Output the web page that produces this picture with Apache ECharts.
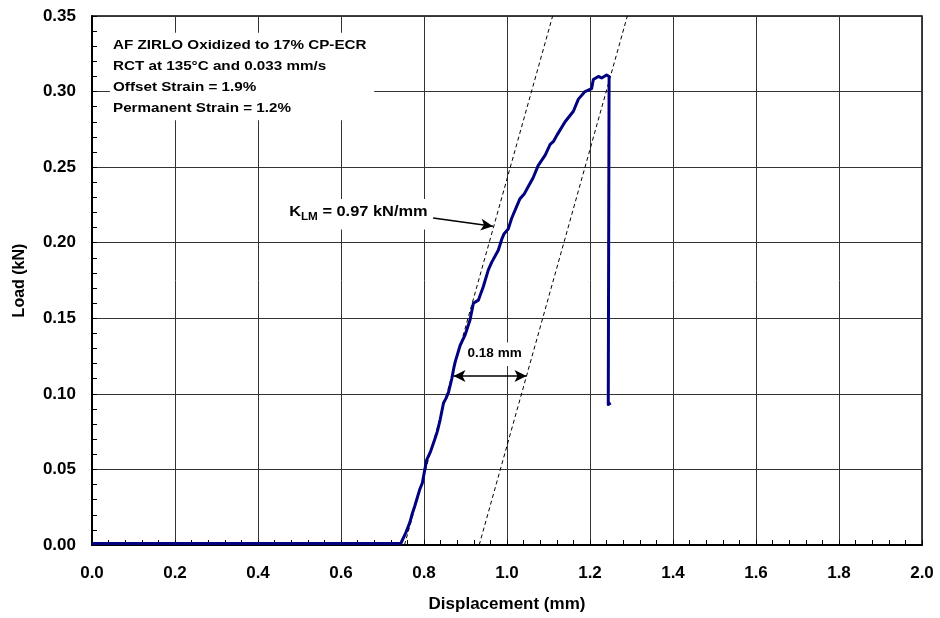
<!DOCTYPE html>
<html>
<head>
<meta charset="utf-8">
<script src="https://cdn.jsdelivr.net/npm/echarts@6/dist/echarts.min.js"></script>
<style>
  html, body { margin: 0; padding: 0; background: #fff; }
  #c { width: 940px; height: 618px; }
</style>
</head>
<body>
<div id="c"></div>
<script>
// Ring compression test: load vs. displacement
const dispMm = [0, 0.2, 0.4, 0.6, 0.744, 0.756, 0.766, 0.772, 0.778, 0.790, 0.796, 0.802, 0.806, 0.816, 0.826,
  0.832, 0.839, 0.847, 0.853, 0.859, 0.867, 0.871, 0.875, 0.887, 0.899, 0.911, 0.919, 0.931, 0.943, 0.955,
  0.963, 0.979, 0.987, 0.993, 1.003, 1.011, 1.031, 1.041, 1.051, 1.063, 1.075, 1.092, 1.104, 1.112, 1.120,
  1.140, 1.160, 1.172, 1.188, 1.204, 1.208, 1.220, 1.228, 1.240, 1.246, 1.244, 1.250];
const loadKn = [0.001, 0.001, 0.001, 0.001, 0.001, 0.008, 0.015, 0.021, 0.026, 0.037, 0.041, 0.050, 0.056, 0.062, 0.070,
  0.075, 0.083, 0.094, 0.097, 0.101, 0.110, 0.116, 0.121, 0.132, 0.139, 0.149, 0.160, 0.162, 0.171, 0.182,
  0.187, 0.195, 0.202, 0.206, 0.209, 0.216, 0.229, 0.232, 0.237, 0.243, 0.251, 0.258, 0.265, 0.267, 0.271,
  0.280, 0.287, 0.295, 0.300, 0.302, 0.308, 0.310, 0.309, 0.311, 0.310, 0.093, 0.094];

// Elastic loading line (K_LM) and the same line offset by the plastic displacement
const stiffLineX = [0.753, 1.110];
const offsetLineX = [0.933, 1.290];
const guideLineY = [0, 0.35];

// Arrow end points
const klmArrowX = [0.822, 0.966];
const klmArrowY = [0.2164, 0.2109];
const offsetArrowX = [0.871, 1.047];
const offsetArrowY = [0.1118, 0.1118];

const noteLines = [
  'AF ZIRLO Oxidized to 17% CP-ECR',
  'RCT at 135°C and 0.033 mm/s',
  'Offset Strain = 1.9%',
  'Permanent Strain = 1.2%'
];
const klmValue = '0.97 kN/mm';
const offsetLabel = '0.18 mm';

const FONT = 'Liberation Sans, Arial, sans-serif';

const curve = dispMm.map((x, i) => [x, loadKn[i]]);
const stiffLine = stiffLineX.map((x, i) => [x, guideLineY[i]]);
const offsetLine = offsetLineX.map((x, i) => [x, guideLineY[i]]);

const chart = echarts.init(document.getElementById('c'), null, { renderer: 'canvas' });

const axisCommon = {
  type: 'value',
  axisLine: { show: true, lineStyle: { color: '#000', width: 2 } },
  axisTick: { show: true, inside: true, length: 5, lineStyle: { color: '#000', width: 1 } },
  minorTick: { show: true, splitNumber: 5, length: 5, lineStyle: { color: '#000', width: 1 } },
  splitLine: { show: true, lineStyle: { color: '#333', width: 1 } },
  axisLabel: { color: '#000', fontFamily: FONT, fontWeight: 'bold', fontSize: 17 },
  nameTextStyle: { color: '#000', fontFamily: FONT, fontWeight: 'bold', fontSize: 17 }
};

chart.setOption({
  animation: false,
  backgroundColor: '#fff',
  grid: { left: 92, right: 18, top: 16, bottom: 72, show: true, borderColor: '#000', borderWidth: 1.5, backgroundColor: '#fff' },
  xAxis: Object.assign({}, axisCommon, {
    min: 0, max: 2, interval: 0.2,
    name: 'Displacement (mm)', nameLocation: 'middle', nameGap: 51,
    axisLabel: Object.assign({}, axisCommon.axisLabel, { margin: 20, formatter: v => v.toFixed(1) }),
    nameTextStyle: Object.assign({}, axisCommon.nameTextStyle, { fontSize: 17 })
  }),
  yAxis: Object.assign({}, axisCommon, {
    min: 0, max: 0.35, interval: 0.05,
    name: 'Load (kN)', nameLocation: 'middle', nameGap: 64, nameRotate: 90,
    axisLabel: Object.assign({}, axisCommon.axisLabel, { margin: 16, formatter: v => v.toFixed(2) }),
    nameTextStyle: Object.assign({}, axisCommon.nameTextStyle, { fontSize: 16 })
  }),
  series: [
    {
      type: 'line', data: stiffLine, showSymbol: false, symbol: 'none', z: 3,
      lineStyle: { color: '#000', width: 1, type: [4, 3] },
      markLine: {
        silent: true, animation: false, symbol: ['none', 'arrow'], symbolSize: [9, 12],
        label: { show: false },
        lineStyle: { color: '#000', width: 1.5, type: 'solid' },
        data: [
          [{ coord: [klmArrowX[0], klmArrowY[0]], symbol: 'none' }, { coord: [klmArrowX[1], klmArrowY[1]], symbol: 'arrow' }],
          [{ coord: [offsetArrowX[0], offsetArrowY[0]], symbol: 'arrow' }, { coord: [offsetArrowX[1], offsetArrowY[1]], symbol: 'arrow' }]
        ]
      }
    },
    {
      type: 'line', data: offsetLine, showSymbol: false, symbol: 'none', z: 3,
      lineStyle: { color: '#000', width: 1, type: [4, 3] }
    },
    {
      type: 'line', data: curve, showSymbol: false, symbol: 'none', z: 5,
      lineStyle: { color: '#000080', width: 3, join: 'round' }
    }
  ]
});

// Text annotations anchored in data space
const px = (x, y) => chart.convertToPixel({ gridIndex: 0 }, [x, y]);
const boxA = px(0.043, 0.339), boxB = px(0.68, 0.281);
const noteAt = px(0.0506, 0.3372);
const klmBoxA = px(0.463, 0.2290), klmBoxB = px(0.820, 0.2087);
const klmAt = px(0.475, 0.2199);
const offBoxA = px(0.902, 0.1340), offBoxB = px(1.045, 0.1185);
const offAt = px(0.905, 0.1268);

chart.setOption({
  graphic: [
    { type: 'rect', z: 50, silent: true,
      shape: { x: boxA[0], y: boxA[1], width: boxB[0] - boxA[0], height: boxB[1] - boxA[1] },
      style: { fill: '#fff' } },
    { type: 'text', z: 51, silent: true, x: noteAt[0], y: noteAt[1], scaleX: 1.17,
      style: { text: noteLines.join('\n'), font: 'bold 13px ' + FONT, fill: '#000', lineHeight: 21, verticalAlign: 'top', align: 'left' } },
    { type: 'rect', z: 50, silent: true,
      shape: { x: klmBoxA[0], y: klmBoxA[1], width: klmBoxB[0] - klmBoxA[0], height: klmBoxB[1] - klmBoxA[1] },
      style: { fill: '#fff' } },
    { type: 'text', z: 51, silent: true, x: klmAt[0], y: klmAt[1], scaleX: 1.17,
      style: {
        text: '{b|K}{s|LM}{b| = ' + klmValue + '}',
        align: 'left', verticalAlign: 'middle', fill: '#000',
        rich: {
          b: { fontFamily: FONT, fontWeight: 'bold', fontSize: 14, fill: '#000' },
          s: { fontFamily: FONT, fontWeight: 'bold', fontSize: 10, fill: '#000', padding: [10, 0, 0, 0] }
        }
      } },
    { type: 'rect', z: 50, silent: true,
      shape: { x: offBoxA[0], y: offBoxA[1], width: offBoxB[0] - offBoxA[0], height: offBoxB[1] - offBoxA[1] },
      style: { fill: '#fff' } },
    { type: 'text', z: 51, silent: true, x: offAt[0], y: offAt[1], scaleX: 1.04,
      style: { text: offsetLabel, font: 'bold 13px ' + FONT, fill: '#000', align: 'left', verticalAlign: 'middle' } }
  ]
});
</script>
</body>
</html>
